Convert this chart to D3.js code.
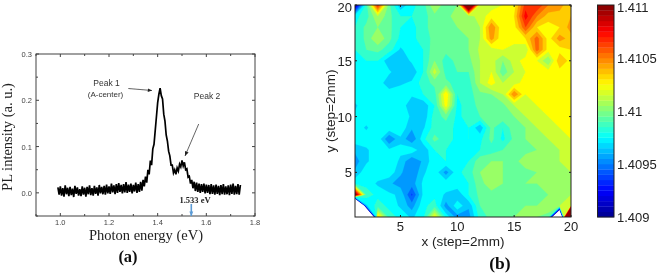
<!DOCTYPE html>
<html>
<head>
<meta charset="utf-8">
<script src="https://cdn.jsdelivr.net/npm/d3@7"></script>
<style>
body { margin: 0; background: #fff; }
svg { display: block; }
</style>
</head>
<body>
<div id="chart"></div>
<script>
// panel (a): PL spectrum, one sample every 0.005 eV starting at 0.99 eV
var plIntensity = [
  .012,-.004,.014,-.006,.010,-.008,.016,-.003,.011,-.007,
  .013,-.005,.009,-.009,.015,-.002,.012,-.006,.008,-.007,
  .014,-.004,.011,-.008,.013,-.003,.016,-.005,.010,-.006,
  .015,-.002,.012,-.006,.017,-.001,.013,-.003,.015,-.004,
  .018,-.001,.014,-.002,.020,.001,.016,-.003,.019,.000,
  .021,.002,.017,-.001,.019,.001,.023,.000,.018,.002,
  .020,-.001,.017,.003,.022,.000,.019,.002,.024,.005,
  .028,.014,.035,.022,.050,.040,.070,.060,.095,.105,
  .135,.165,.195,.213,.226,.210,.203,.170,.155,.125,
  .112,.090,.080,.060,.060,.043,.050,.040,.054,.047,
  .062,.056,.070,.058,.066,.050,.052,.034,.036,.020,
  .028,.010,.024,.004,.022,.002,.020,.000,.019,.002,
  .020,-.001,.018,.000,.017,-.003,.019,-.002,.016,-.004,
  .018,-.002,.015,-.005,.017,-.003,.019,-.004,.014,-.003,
  .016,-.005,.018,-.002,.020,-.004,.015,-.003,.019,-.004,.017
];
var plStart = 0.99, plStep = 0.005;
var plXTicks = [1.0, 1.2, 1.4, 1.6, 1.8];
var plXMinor = [0.9, 1.1, 1.3, 1.5, 1.7];
var plYTicks = [0.0, 0.1, 0.2, 0.3];
var plYMinor = [-0.05, 0.05, 0.15, 0.25];

// panel (b): peak position map, in units of 1e-4 above 1.409, rows go y=20 down to y=1
var mapRows = [
  [0.5,8.5,17,9.3,6.2,7.7,8.5,11,9.3,10,26,11,11.5,12,12.5,16.5,17,15,14.5,13],
  [7.7,8.5,11,9.3,8,8,8.5,9.7,9.3,11,10.5,11.5,12.5,12.5,13,17.5,15,13.5,13.5,14],
  [8,9.3,10,9.3,8,7.7,8.5,9.7,9.7,10,10,11,15,12,12.5,16,13,12.5,13,14.5],
  [8,9.3,11,9.3,7.7,7.7,8.5,9.3,9.3,9.7,10,11,14.5,12,12.5,13,15.5,12.5,14.5,13.5],
  [8,9,9.3,8.5,6.8,7.7,8,9.7,9.3,9.3,10,11.2,11.5,12,11.5,11,15.5,12.5,12.5,13],
  [7.7,8,8,6.2,6.2,7.2,8,10,8.5,9.3,9.7,11,11.5,10,11.5,12.5,12,10,14,12.5],
  [7.7,7.7,7.7,7.2,6.2,6.2,8,11.5,8.5,9,9,11,12,9.3,11,12,12,12.5,12.5,12.5],
  [7.7,7.7,7.7,6.2,6.8,7.2,8.5,9.3,9.3,8.5,8.5,11,12.5,11,11.5,12.5,12.5,12.5,12.5,13],
  [7.7,7.7,8,7.7,7.7,7.2,8,8.5,13,8,8.5,9.7,10,11,15,12,12.5,12.5,12.5,13],
  [6.8,7.7,7.7,7.7,7.7,6.2,6.2,8,12.5,7.7,8.5,9.3,9.3,9.7,11,11.5,12,12,12.5,12.5],
  [7.2,7.7,7.7,7.7,7.7,6.8,6.2,8.5,9.3,7.7,8.5,9,9.3,9.7,10,11,11.5,12,12.5,13],
  [7.7,6.8,8,7.7,7.7,6.2,6.8,8.5,8.5,7.7,8,6.2,9.3,8,9.7,10,11,11,12,12.5],
  [7.7,7.7,7.7,5,6.8,5,7.7,9.3,8.5,7.7,8,7.7,9.3,7.7,9.3,10,10.5,11,11.5,12],
  [6.2,6.8,7.7,7.2,7.2,7.7,6.2,8,8,7.7,7.7,8,8.5,9,10,9.7,10,10.5,11,11.5],
  [5.5,6.8,7.7,7.7,6.8,5,6.2,7.7,8,7.7,8,9.7,10,10,9.7,10.5,10,10.5,11,11.5],
  [6.2,7.7,7.7,7.7,6.2,5,6.8,7.7,5.5,7.7,8.5,10,10,10,9.7,9.7,10,10,10.5,11],
  [7.7,7.7,6.8,6.2,5.5,5.5,7.2,7.7,7.7,7.7,8,9.7,10.5,10,9.7,10,10,10,10,11],
  [21,8.5,7.7,7.2,6.8,3.8,7.2,7.7,6.8,6.2,8,9.3,9.7,9.7,9.3,9.7,9.7,10,10.5,11],
  [-40,6.8,8.5,7.7,6.8,5.5,7.7,8.5,5.5,7.7,6.2,9,9.7,10,9.7,10,10,10.5,11,12],
  [-50,-30,13.5,8.5,7.7,6.8,7.7,12.5,7.7,5.5,5.5,8.5,9.3,9.7,10,10,10,9.7,-20,60]
];
var mapTicks = [5, 10, 15, 20];
var barTicks = [1.409, 1.4095, 1.41, 1.4105, 1.411];
var barLabels = ["1.409", "1.4095", "1.41", "1.4105", "1.411"];

var svg = d3.select("#chart").append("svg")
  .attr("width", 658)
  .attr("height", 276);

// the source is a soft upscaled jpeg
var defs = svg.append("defs");
defs.append("filter").attr("id", "soft")
  .append("feGaussianBlur").attr("stdDeviation", 0.4);
defs.append("filter").attr("id", "softer")
  .append("feGaussianBlur").attr("stdDeviation", 0.5);
defs.append("clipPath").attr("id", "mapclip")
  .append("rect").attr("x", 355).attr("y", 5).attr("width", 216).attr("height", 212);

var root = svg.append("g").attr("filter", "url(#soft)");

/* ---------- panel (a) ---------- */
var plX = d3.scaleLinear().domain([0.9, 1.8]).range([36, 255]);
var plY = d3.scaleLinear().domain([-0.05, 0.3]).range([216, 54]);
var sans = "'Liberation Sans', Arial, sans-serif";
var serif = "'Liberation Serif', 'Times New Roman', serif";

var left = root.append("g");

left.append("rect")
  .attr("x", 36).attr("y", 54).attr("width", 219).attr("height", 162)
  .attr("fill", "none").attr("stroke", "#444").attr("stroke-width", 1);

function plTicks(sel, values, len) {
  sel.selectAll(null).data(values).enter().append("path")
    .attr("d", function(d) { return "M" + plX(d) + ",216v" + (-len) + "M" + plX(d) + ",54v" + len; })
    .attr("stroke", "#444").attr("fill", "none");
}
function plYTickMarks(sel, values, len) {
  sel.selectAll(null).data(values).enter().append("path")
    .attr("d", function(d) { return "M36," + plY(d) + "h" + len + "M255," + plY(d) + "h" + (-len); })
    .attr("stroke", "#444").attr("fill", "none");
}
plTicks(left, plXTicks, 3);
plTicks(left, plXMinor, 2);
plYTickMarks(left, plYTicks, 3);
plYTickMarks(left, plYMinor, 2);

left.selectAll(".xt").data(plXTicks).enter().append("text")
  .attr("x", function(d) { return plX(d); })
  .attr("y", 224.8)
  .attr("text-anchor", "middle")
  .attr("font-family", sans).attr("font-size", 7.5).attr("fill", "#444")
  .text(function(d) { return d.toFixed(1); });

left.selectAll(".yt").data(plYTicks).enter().append("text")
  .attr("x", 32)
  .attr("y", function(d) { return plY(d) + 3; })
  .attr("text-anchor", "end")
  .attr("font-family", sans).attr("font-size", 7.5).attr("fill", "#444")
  .text(function(d) { return d.toFixed(1); });

var plLine = d3.line()
  .x(function(d, i) { return plX(plStart + i * plStep); })
  .y(function(d) { return plY(d); });

left.append("path")
  .datum(plIntensity)
  .attr("d", plLine)
  .attr("fill", "none")
  .attr("stroke", "#000")
  .attr("stroke-width", 1.7);

left.append("text")
  .attr("x", 146).attr("y", 239.5)
  .attr("text-anchor", "middle")
  .attr("font-family", serif).attr("font-size", 14.5).attr("fill", "#222")
  .text("Photon energy (eV)");

left.append("text")
  .attr("transform", "translate(12,137) rotate(-90)")
  .attr("text-anchor", "middle")
  .attr("font-family", serif).attr("font-size", 14.5).attr("fill", "#222")
  .text("PL intensity (a. u.)");

left.append("text")
  .attr("x", 128).attr("y", 262)
  .attr("text-anchor", "middle")
  .attr("font-family", serif).attr("font-weight", "bold").attr("font-size", 16.5).attr("fill", "#111")
  .text("(a)");

// annotations
function note(label, x, y, size) {
  left.append("text")
    .attr("x", x).attr("y", y)
    .attr("text-anchor", "middle")
    .attr("font-family", sans).attr("font-size", size).attr("fill", "#333")
    .text(label);
}
note("Peak 1", 106.5, 85.5, 8.5);
note("(A-center)", 105.5, 97, 8);
note("Peak 2", 207, 98.5, 8.5);

function arrow(x1, y1, x2, y2, color, width, head) {
  var a = Math.atan2(y2 - y1, x2 - x1);
  left.append("line")
    .attr("x1", x1).attr("y1", y1).attr("x2", x2).attr("y2", y2)
    .attr("stroke", color).attr("stroke-width", width);
  var pts = [
    [x2, y2],
    [x2 - head * Math.cos(a - 0.4), y2 - head * Math.sin(a - 0.4)],
    [x2 - head * Math.cos(a + 0.4), y2 - head * Math.sin(a + 0.4)]
  ];
  left.append("path")
    .attr("d", d3.line()(pts) + "Z")
    .attr("fill", color);
}
arrow(128.3, 88.5, 152, 90.5, "#222", 0.7, 4.5);
arrow(198.7, 124, 185, 156, "#222", 0.7, 5);
arrow(191.3, 204, 191.3, 216, "#5b9bd5", 1.6, 5);

left.append("text")
  .attr("x", 195).attr("y", 203)
  .attr("text-anchor", "middle")
  .attr("font-family", serif).attr("font-weight", "bold").attr("font-size", 8.5).attr("fill", "#222")
  .text("1.533 eV");

/* ---------- panel (b) ---------- */
var mapX = d3.scaleLinear().domain([1, 20]).range([355, 571]);
var mapY = d3.scaleLinear().domain([1, 20]).range([217, 5]);

var jet = d3.scaleLinear()
  .domain([0, 2.5, 7.5, 12.5, 17.5, 20])
  .range(["#00008f", "#0000ff", "#00ffff", "#ffff00", "#ff0000", "#800000"])
  .clamp(true);

var levels = d3.range(0, 20, 1);
var contours = d3.contours()
  .size([20, 20])
  .smooth(true)
  .thresholds(levels)(d3.merge(mapRows));

// contour space has the first sample at 0.5,0.5
var toMap = d3.geoTransform({
  point: function(cx, cy) {
    this.stream.point(mapX(cx + 0.5), mapY(20.5 - cy));
  }
});
var contourPath = d3.geoPath(toMap);

var right = root.append("g");

right.append("g")
  .attr("clip-path", "url(#mapclip)")
  .append("g")
  .attr("filter", "url(#softer)")
  .selectAll("path")
  .data(contours)
  .enter().append("path")
  .attr("d", contourPath)
  .attr("fill", function(d) { return jet(d.value + 0.5); })
  .attr("stroke", function(d) { return jet(d.value + 0.5); })
  .attr("stroke-width", 0.2);

right.append("rect")
  .attr("x", 355).attr("y", 5).attr("width", 216).attr("height", 212)
  .attr("fill", "none").attr("stroke", "#222").attr("stroke-width", 1);

right.selectAll(".mx").data(mapTicks).enter().append("path")
  .attr("d", function(d) { return "M" + mapX(d) + ",217v-2M" + mapX(d) + ",5v2"; })
  .attr("stroke", "#222").attr("fill", "none");
right.selectAll(".my").data(mapTicks).enter().append("path")
  .attr("d", function(d) { return "M355," + mapY(d) + "h2M571," + mapY(d) + "h-2"; })
  .attr("stroke", "#222").attr("fill", "none");

right.selectAll(".mxl").data(mapTicks).enter().append("text")
  .attr("x", function(d) { return mapX(d); })
  .attr("y", 230.5)
  .attr("text-anchor", "middle")
  .attr("font-family", sans).attr("font-size", 13).attr("fill", "#222")
  .text(function(d) { return d; });
right.selectAll(".myl").data(mapTicks).enter().append("text")
  .attr("x", 352)
  .attr("y", function(d) { return Math.max(mapY(d) + 5, 12); })
  .attr("text-anchor", "end")
  .attr("font-family", sans).attr("font-size", 13).attr("fill", "#222")
  .text(function(d) { return d; });

right.append("text")
  .attr("x", 463).attr("y", 245.5)
  .attr("text-anchor", "middle")
  .attr("font-family", sans).attr("font-size", 13.5).attr("fill", "#222")
  .text("x (step=2mm)");
right.append("text")
  .attr("transform", "translate(335,111) rotate(-90)")
  .attr("text-anchor", "middle")
  .attr("font-family", sans).attr("font-size", 13.5).attr("fill", "#222")
  .text("y (step=2mm)");
right.append("text")
  .attr("x", 500).attr("y", 269)
  .attr("text-anchor", "middle")
  .attr("font-family", serif).attr("font-weight", "bold").attr("font-size", 17.5).attr("fill", "#111")
  .text("(b)");

// colour bar
var barY = d3.scaleLinear().domain([1.409, 1.411]).range([217, 5]);
var barSteps = d3.range(0, 20, 0.5);

right.selectAll(".cb").data(barSteps).enter().append("rect")
  .attr("x", 597.5)
  .attr("width", 16.5)
  .attr("y", function(d) { return barY(1.409 + (d + 0.5) * 1e-4); })
  .attr("height", barY(1.409) - barY(1.409 + 0.5e-4) + 0.3)
  .attr("fill", function(d) { return jet(d + 0.25); });

right.append("rect")
  .attr("x", 597.5).attr("y", 5).attr("width", 16.5).attr("height", 212)
  .attr("fill", "none").attr("stroke", "#222").attr("stroke-width", 1);

right.selectAll(".cbl").data(barTicks).enter().append("text")
  .attr("x", 617)
  .attr("y", function(d) { return Math.max(barY(d) + 5, 12); })
  .attr("font-family", sans).attr("font-size", 13).attr("fill", "#222")
  .text(function(d, i) { return barLabels[i]; });
</script>
</body>
</html>
